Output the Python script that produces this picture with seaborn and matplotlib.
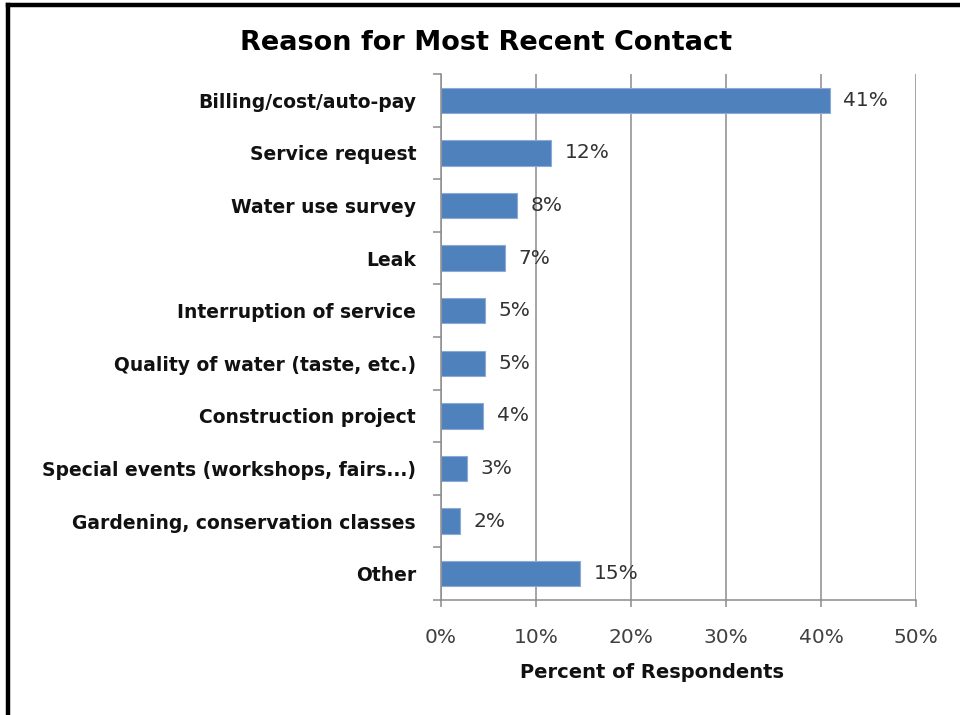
import matplotlib
matplotlib.use("Agg")
import matplotlib.pyplot as plt
from matplotlib.lines import Line2D
import seaborn as sns
import pandas as pd
import numpy as np

# Survey results: reason for the respondent's most recent contact
categories = [
    "Billing/cost/auto-pay",
    "Service request",
    "Water use survey",
    "Leak",
    "Interruption of service",
    "Quality of water (taste, etc.)",
    "Construction project",
    "Special events (workshops, fairs...)",
    "Gardening, conservation classes",
    "Other",
]
percents = [40.9, 11.6, 8.0, 6.7, 4.6, 4.6, 4.4, 2.7, 2.0, 14.6]
x_ticks = [0, 10, 20, 30, 40, 50]
x_tick_labels = ["0%", "10%", "20%", "30%", "40%", "50%"]

title = "Reason for Most Recent Contact"
x_title = "Percent of Respondents"

sns.set_style("white")
plt.rcParams["font.family"] = ["DejaVu Sans"]

df = pd.DataFrame({"reason": categories, "pct": percents})

fig = plt.figure(figsize=(9.6, 7.15), dpi=100)
W, H = 960, 715
ax = fig.add_axes([441 / W, 1 - 600 / H, (916 - 441) / W, (600 - 74) / H])

bar_color = "#4F81BD"
sns.barplot(data=df, x="pct", y="reason", orient="h", color=bar_color,
            width=0.48, ax=ax, edgecolor="#8DAAD6", linewidth=0.8,
            saturation=1)

ax.set_xlim(0, 50)
ax.set_ylim(len(categories) - 0.5, -0.5)
ax.set_xticks(x_ticks)
ax.set_xticklabels(x_tick_labels)
ax.set_xlabel("")
ax.set_ylabel("")

grid_color = "#8C8C8C"
ax.set_axisbelow(True)
ax.xaxis.grid(True, color=grid_color, linewidth=1.1)
ax.yaxis.grid(False)

for side in ("top", "right"):
    ax.spines[side].set_visible(False)
for side in ("left", "bottom"):
    ax.spines[side].set_color(grid_color)
    ax.spines[side].set_linewidth(1.1)

# category tick marks sit on the boundaries between bars
ax.set_yticks(np.arange(-0.5, len(categories), 1.0), minor=True)
ax.tick_params(axis="y", which="minor", length=6, width=1.1,
               color=grid_color, direction="out", left=True)
ax.tick_params(axis="y", which="major", length=0, pad=18,
               labelsize=13.5, labelcolor="#111111")
for lbl in ax.get_yticklabels():
    lbl.set_fontweight("bold")

ax.tick_params(axis="x", which="major", length=5, width=1.1,
               color=grid_color, direction="out", bottom=True,
               pad=15, labelsize=14.5, labelcolor="#404040")

labels = [f"{v:.0f}%" for v in percents]
ax.bar_label(ax.containers[0], labels=labels, padding=10,
             fontsize=14.5, color="#333333")

fig.text(486 / W, 1 - 43 / H, title, ha="center", va="center",
         fontsize=19.5, fontweight="bold", color="#000000")
fig.text(652 / W, 1 - 672 / H, x_title, ha="center", va="center",
         fontsize=14, fontweight="bold", color="#111111")

# heavy frame along the left and top edges
fig.add_artist(Line2D([7.5 / W, 7.5 / W], [0, 1 - 5 / H],
                      transform=fig.transFigure, color="black", linewidth=3.2,
                      solid_capstyle="projecting"))
fig.add_artist(Line2D([7.5 / W, 1], [1 - 5 / H, 1 - 5 / H],
                      transform=fig.transFigure, color="black", linewidth=3.2,
                      solid_capstyle="projecting"))

fig.savefig("out.png", dpi=100, facecolor="white")
